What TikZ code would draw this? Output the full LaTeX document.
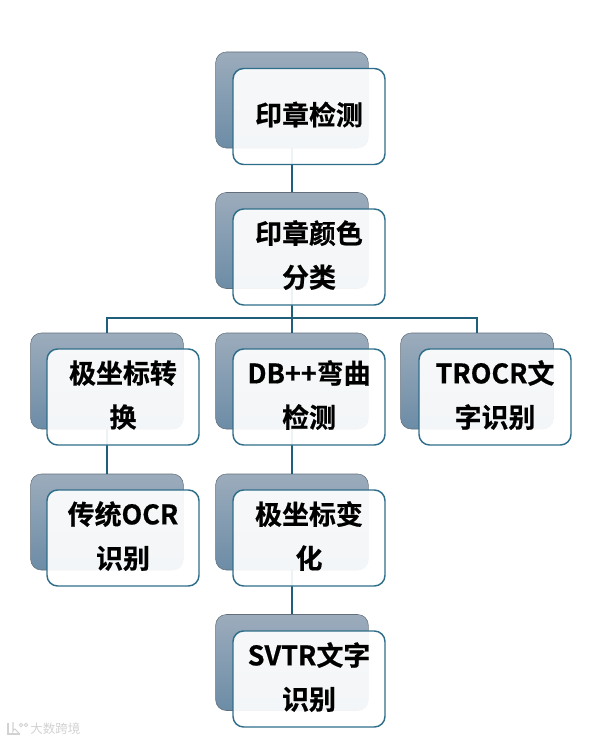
\documentclass[tikz,border=0pt]{standalone}
\usepackage{fontspec}
\setmainfont{Noto Sans CJK SC}[BoldFont={Noto Sans CJK SC Bold}, BoldFeatures={FakeBold=0.6}]
\usetikzlibrary{positioning, calc}
\definecolor{liaison}{RGB}{31,95,122}
\definecolor{cadre}{RGB}{47,110,138}
\definecolor{ardoiseH}{RGB}{156,172,188}
\definecolor{ardoiseB}{RGB}{108,140,166}
\definecolor{arete}{RGB}{98,110,122}
\definecolor{filigrane}{RGB}{210,210,210}
\tikzset{
	fond/.style={rounded corners=8pt, minimum width=114.5pt, minimum height=72pt,
		top color=ardoiseH, bottom color=ardoiseB, draw=arete, line width=0.4pt, inner sep=0pt},
	carte/.style={rounded corners=8pt, minimum width=114pt, minimum height=72pt,
		draw=cadre, line width=1.1pt, fill=white, fill opacity=0.92, text opacity=1,
		align=center, font=\bfseries\fontsize{20.2}{33}\selectfont, inner sep=0pt, text depth=4.8pt},
	trait/.style={draw=liaison, line width=1.4pt},
}

\begin{document}
\begin{tikzpicture}[x=0.75pt, y=-0.75pt]
	\useasboundingbox (0,0) rectangle (603,742);
	% boites du fond
	\foreach \nom/\px/\py in {a/292/100, b/292/240.5, c/107/381, d/292/381, e/477/381, f/107/522, g/292/522, h/292/662.5} {
		\node[fond] (fond\nom) at (\px,\py) {};
	}
	
	% liaisons, sous les cartes
	\coordinate (barre) at (292,318);
	\draw[trait] (fonda.south) -- (fondb.north);
	\draw[trait] (fondb.south) -- (barre);
	\draw[trait] (barre) -| (fondc.north);
	\draw[trait] (barre) -- (fondd.north);
	\draw[trait] (barre) -| (fonde.north);
	\draw[trait] (fondc.south) -- (fondf.north);
	\draw[trait] (fondd.south) -- (fondg.north);
	\draw[trait] (fondg.south) -- (fondh.north);
	
	% cartes, decalees de (17,16)
	\node[carte] (cartea) at ($(fonda)+(17,16.5)$) {印章检测};
	\node[carte] (carteb) at ($(fondb)+(17,16.5)$) {印章颜色\\分类};
	\node[carte] (cartec) at ($(fondc)+(16,16)$) {极坐标转\\换};
	\node[carte] (carted) at ($(fondd)+(17,16)$) {DB++弯曲\\检测};
	\node[carte] (cartee) at ($(fonde)+(18,16)$) {TROCR文\\字识别};
	\node[carte] (cartef) at ($(fondf)+(16,16)$) {传统OCR\\识别};
	\node[carte] (carteg) at ($(fondg)+(17,16)$) {极坐标变\\化};
	\node[carte] (carteh) at ($(fondh)+(17,16.5)$) {SVTR文字\\识别};
	
	% filigrane
	\draw[filigrane, line width=0.8pt] (8,723) -- (8,734) -- (20,734);
	\draw[filigrane, line width=0.8pt] (13,722) -- (13,731) arc[start angle=180, end angle=270, radius=2] -- (19,733);
	\draw[filigrane, line width=0.6pt] (21,725) circle (1.8) (26,725) circle (1.8);
	\node[filigrane, font=\fontsize{9.4}{10}\selectfont, anchor=west, inner sep=0pt] (marque) at (30,729) {大数跨境};
\end{tikzpicture}
\end{document}
